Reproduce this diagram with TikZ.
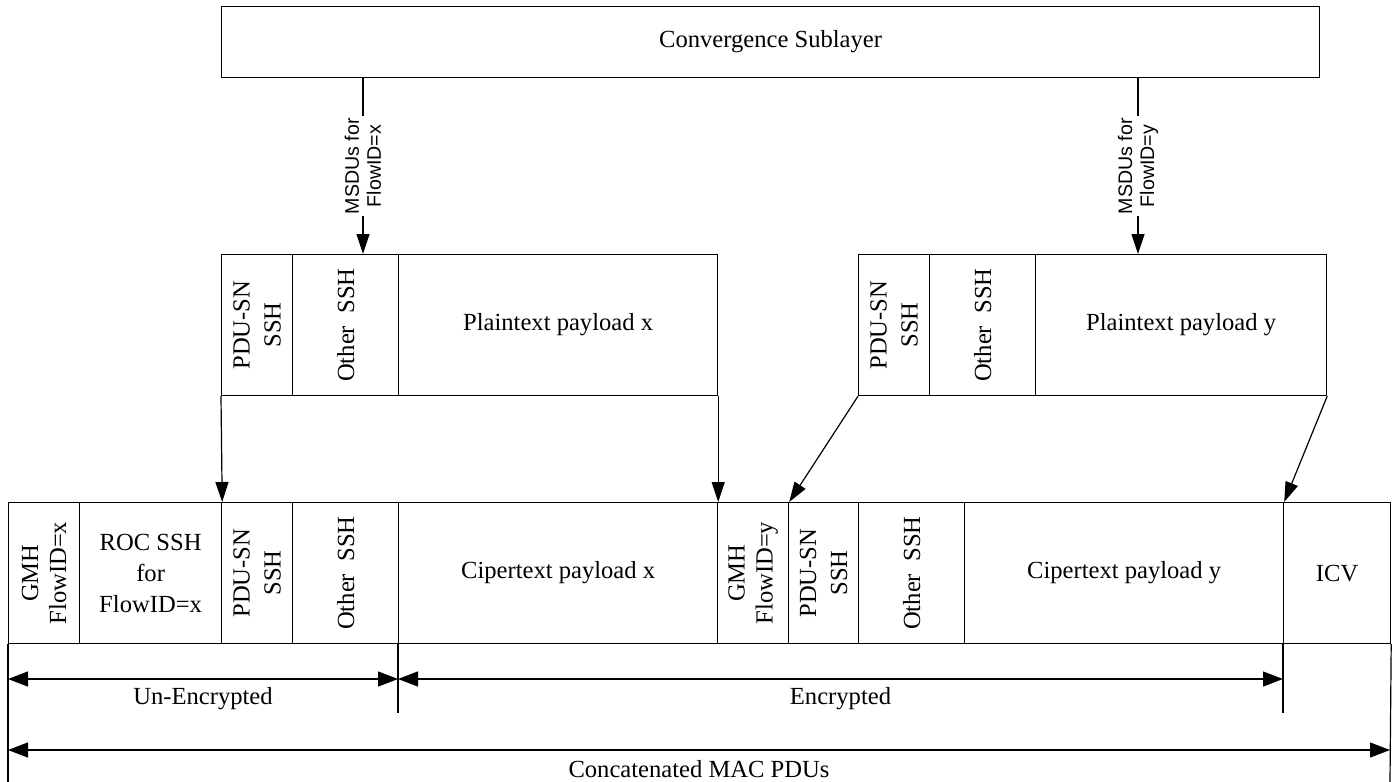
\documentclass[tikz,border=0pt]{standalone}
\usepackage{fontspec}
\setmainfont{Liberation Serif}
\newfontfamily\labelsans{Liberation Sans}
\usetikzlibrary{arrows.meta}

\begin{document}
\begin{tikzpicture}[x=0.5pt, y=-0.5pt,
  line width=0.6pt,
  cell/.style={draw, rectangle, inner sep=0pt, anchor=north west},
  txt/.style={font=\fontsize{12.3}{15.5}\selectfont, align=center, inner sep=1pt},
  vtxt/.style={txt, rotate=90},
  flowlbl/.style={font=\labelsans\fontsize{9.8}{11}\selectfont, align=center,
                  rotate=90, fill=white, inner sep=1pt},
  feed/.style={-{Triangle[length=10pt,width=6.5pt]}},
  span/.style={{Triangle[length=10pt,width=7.5pt]}-{Triangle[length=10pt,width=7.5pt]}},
]
\useasboundingbox (0,0) rectangle (1394,782);

% a framed cell given by its corners (x1,y1) and (x2,y2)
\newcommand\cellat[5]{%
  \node[cell, minimum width={(#4-#2)*0.5pt}, minimum height={(#5-#3)*0.5pt}] (#1) at (#2,#3) {};}

% convergence sublayer
\cellat{cs}{221}{6}{1319}{77}
\node[txt] at (cs.center) {Convergence Sublayer};

% plaintext PDU for flow x
\cellat{mpx}{221}{254}{292}{395}
\cellat{mox}{292}{254}{398}{395}
\cellat{mplx}{398}{254}{717}{395}
\node[vtxt] at (mpx.center) {PDU-SN\\SSH};
\node[vtxt] at (mox.center) {Other~~SSH};
\node[txt] at (mplx.center) {Plaintext payload x};

% plaintext PDU for flow y
\cellat{mpy}{858}{254}{929}{395}
\cellat{moy}{929}{254}{1035}{395}
\cellat{mply}{1035}{254}{1326}{395}
\node[vtxt] at (mpy.center) {PDU-SN\\SSH};
\node[vtxt] at (moy.center) {Other~~SSH};
\node[txt] at (mply.center) {Plaintext payload y};

% concatenated MAC PDUs
\cellat{gmhx}{8}{502}{79}{643}
\cellat{rocx}{79}{502}{221}{643}
\cellat{pdux}{221}{502}{292}{643}
\cellat{othx}{292}{502}{398}{643}
\cellat{cpx}{398}{502}{717}{643}
\cellat{gmhy}{717}{502}{788}{643}
\cellat{pduy}{788}{502}{858}{643}
\cellat{othy}{858}{502}{964}{643}
\cellat{cpy}{964}{502}{1283}{643}
\cellat{icv}{1283}{502}{1390}{643}
\node[vtxt, font=\fontsize{12.3}{14}\selectfont] at (gmhx.center) {GMH\\FlowID=x};
\node[txt] at (rocx.center) {ROC SSH\\for\\FlowID=x};
\node[vtxt] at (pdux.center) {PDU-SN\\SSH};
\node[vtxt] at (othx.center) {Other~~SSH};
\node[txt] at (cpx.center) {Cipertext payload x};
\node[vtxt, font=\fontsize{12.3}{14}\selectfont] at (gmhy.center) {GMH\\FlowID=y};
\node[vtxt] at (pduy.center) {PDU-SN\\SSH};
\node[vtxt] at (othy.center) {Other~~SSH};
\node[txt] at (cpy.center) {Cipertext payload y};
\node[txt] at (icv.center) {ICV};

% MSDU feeds from the convergence sublayer
\coordinate (fx) at (363,0);
\coordinate (fy) at (1138,0);
\draw[feed] (cs.south -| fx) -- (mox.north -| fx)
  node[midway, flowlbl] {MSDUs for\\FlowID=x};
\draw[feed] (cs.south -| fy) -- (mply.north -| fy)
  node[midway, flowlbl] {MSDUs for\\FlowID=y};

% mapping of plaintext PDUs onto the MAC PDUs
\draw[feed] (mpx.south west) -- (rocx.north east);
\draw[feed] (mplx.south east) -- (cpx.north east);
\draw[feed] (mpy.south west) -- (gmhy.north east);
\draw[feed] (mply.south east) -- (cpy.north east);

% extent lines under the MAC PDUs
\coordinate (encl) at (398,713);
\coordinate (encr) at (1283,713);
\coordinate (botl) at (8,782);
\coordinate (botr) at (1390,782);
\draw (cpx.south west) -- (encl);
\draw (icv.south west) -- (encr);
\draw (gmhx.south west) -- (botl);
\draw (icv.south east) -- (botr);

% extent arrows
\coordinate (ua) at (8,679);
\coordinate (ub) at (398,679);
\coordinate (eb) at (1283,679);
\coordinate (ca) at (8,750);
\coordinate (cb) at (1390,750);
\draw[span] (ua) -- (ub) node[midway, below=3pt, txt] {Un-Encrypted};
\draw[span] (ub) -- (eb) node[midway, below=3pt, txt] {Encrypted};
\draw[span] (ca) -- (cb) node[midway, below=4pt, txt] {Concatenated MAC PDUs};
\end{tikzpicture}
\end{document}
